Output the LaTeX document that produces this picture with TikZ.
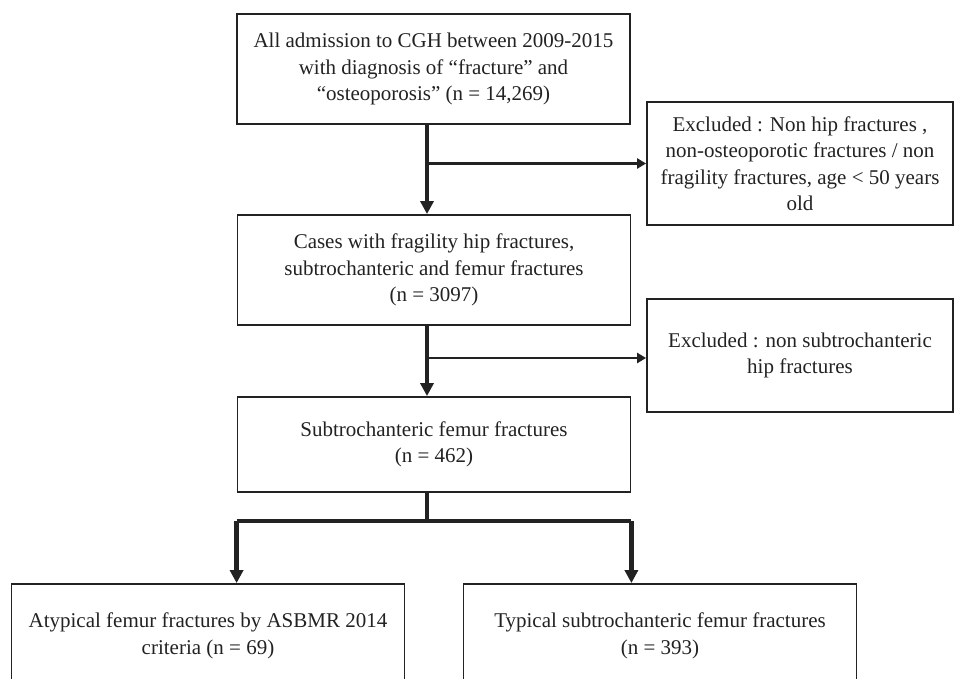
\documentclass[tikz,border=0pt]{standalone}
\usepackage{fontspec}
\setmainfont{Liberation Serif}
\usetikzlibrary{arrows.meta}
\definecolor{ink}{HTML}{222222}
\begin{document}
\begin{tikzpicture}[x=1pt,y=-1pt,
    box/.style={draw=ink,line width=1.8pt,rectangle,inner sep=0pt,align=center,text=ink,
        font=\fontsize{21}{26.5}\selectfont,minimum width=393pt,minimum height=110pt},
    exbox/.style={box,minimum width=306pt},
    mainarrow/.style={draw=ink,line width=4.5pt,-{Triangle[length=13pt,width=13pt]}},
    sidearrow/.style={draw=ink,line width=2.4pt,-{Triangle[length=9pt,width=10pt]}}]
\useasboundingbox (0,0) rectangle (954,679);
\node[box] (all) at (433.5,69) {All admission to CGH between 2009-2015\\with diagnosis of “fracture” and\\“osteoporosis” (n = 14,269)};
\node[box] (hip) at (434,270) {Cases with fragility hip fractures,\\subtrochanteric and femur fractures\\(n = 3097)};
\node[box,minimum height=95pt] (sub) at (434,444.5) {Subtrochanteric femur fractures\\(n = 462)};
\node[exbox,minimum height=123pt] (ex1) at (800,163.5) {Excluded : Non hip fractures ,\\non-osteoporotic fractures / non\\fragility fractures, age < 50 years\\old};
\node[exbox,minimum height=113pt] (ex2) at (800,355.5) {Excluded : non subtrochanteric\\hip fractures};
\node[box,minimum height=104pt] (afs) at (208,636) {Atypical femur fractures by ASBMR 2014\\criteria (n = 69)};
\node[box,minimum height=104pt] (tfs) at (660,636) {Typical subtrochanteric femur fractures\\(n = 393)};
\coordinate (stem) at (427,0);
\coordinate (split) at (427,521);
\draw[mainarrow] (all.south -| stem) -- (hip.north -| stem);
\draw[mainarrow] (hip.south -| stem) -- (sub.north -| stem);
\draw[sidearrow] (ex1.west -| stem) -- (ex1.west);
\draw[sidearrow] (0,358 -| stem) -- (0,358 -| ex2.west);
\draw[draw=ink,line width=4.5pt] (sub.south -| stem) -- (split);
\draw[draw=ink,line width=4.5pt] (split -| sub.south west) -- (split -| sub.south east);
\draw[mainarrow] (split -| sub.south west) -- (afs.north -| sub.south west);
\draw[mainarrow] (split -| sub.south east) -- (tfs.north -| sub.south east);
\end{tikzpicture}
\end{document}
